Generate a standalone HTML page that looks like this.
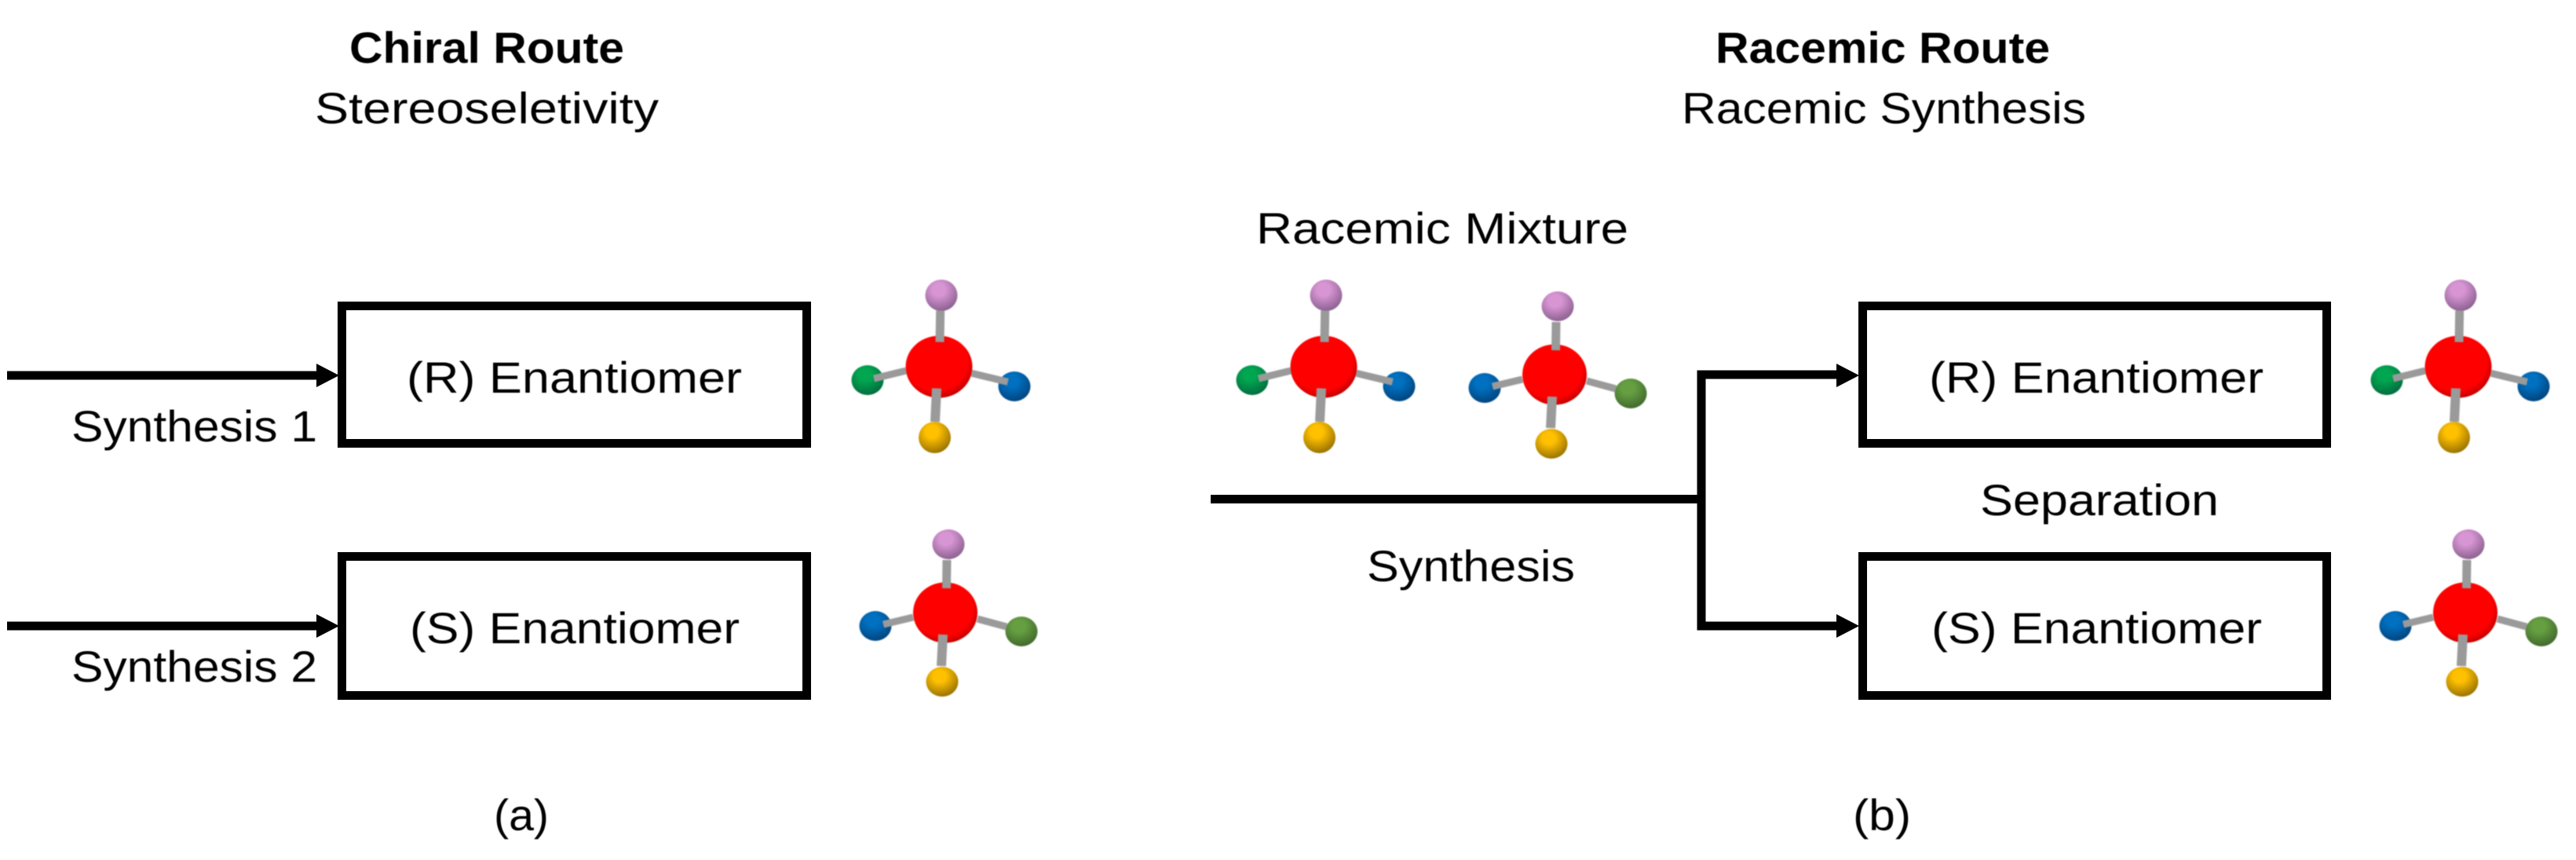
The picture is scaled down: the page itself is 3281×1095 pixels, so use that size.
<!DOCTYPE html>
<html><head><meta charset="utf-8"><style>
html,body{margin:0;padding:0;background:#fff}
svg{display:block}
text{font-family:"Liberation Sans",sans-serif;font-size:56px;fill:#000;filter:blur(.6px)}
.b{font-weight:bold}
.bd{stroke:#9a9a9a;fill:none}
.m{filter:blur(.7px)}
</style></head><body>
<svg width="3281" height="1095" viewBox="0 0 3281 1095" xmlns="http://www.w3.org/2000/svg">
<defs>
<radialGradient id="gr" cx=".46" cy=".42" r=".62"><stop offset=".75" stop-color="#ff0000"/><stop offset="1" stop-color="#b00000"/></radialGradient>
<radialGradient id="gp" cx=".42" cy=".32" r=".8"><stop offset=".25" stop-color="#d895d4"/><stop offset="1" stop-color="#7a5580"/></radialGradient>
<radialGradient id="gg" cx=".42" cy=".32" r=".8"><stop offset=".25" stop-color="#00a650"/><stop offset="1" stop-color="#00603a"/></radialGradient>
<radialGradient id="gb" cx=".42" cy=".32" r=".8"><stop offset=".25" stop-color="#0070c0"/><stop offset="1" stop-color="#003a6e"/></radialGradient>
<radialGradient id="gy" cx=".42" cy=".32" r=".8"><stop offset=".25" stop-color="#ffc000"/><stop offset="1" stop-color="#806000"/></radialGradient>
<radialGradient id="go" cx=".42" cy=".32" r=".8"><stop offset=".25" stop-color="#659f41"/><stop offset="1" stop-color="#395c28"/></radialGradient>
<g id="mr">
<ellipse cx="0" cy="0" rx="42.5" ry="39.5" fill="url(#gr)"/>
<ellipse cx="3" cy="-91" rx="20.5" ry="20" fill="url(#gp)"/>
<ellipse cx="-91" cy="17" rx="20.5" ry="19" fill="url(#gg)"/>
<ellipse cx="96" cy="25" rx="20.5" ry="19" fill="url(#gb)"/>
<ellipse cx="-5.5" cy="90" rx="20.5" ry="20" fill="url(#gy)"/>
<path class="bd" stroke-width="11" d="M1.7-71.5L1-31.5"/>
<path class="bd" stroke-width="12" d="M-3 27.5L-5 70"/>
<path class="bd" stroke-width="9" d="M-42 5L-83 15"/>
<path class="bd" stroke-width="9" d="M41.7 8.3L87.7 19.3"/>
</g>
<g id="ms">
<ellipse cx="0" cy="0" rx="41" ry="38.5" fill="url(#gr)"/>
<ellipse cx="4" cy="-87" rx="20.5" ry="19" fill="url(#gp)"/>
<ellipse cx="-89" cy="17" rx="20.5" ry="19" fill="url(#gb)"/>
<ellipse cx="97" cy="24" rx="20.5" ry="19" fill="url(#go)"/>
<ellipse cx="-4" cy="88" rx="20.5" ry="19" fill="url(#gy)"/>
<path class="bd" stroke-width="11" d="M2-67L1.5-31"/>
<path class="bd" stroke-width="12" d="M-3 28L-5 68"/>
<path class="bd" stroke-width="9" d="M-41 6L-79 15"/>
<path class="bd" stroke-width="9" d="M41 8L78 18"/>
</g>
</defs>
<rect width="3281" height="1095" fill="#fff"/>

<g fill="none" stroke="#000" stroke-width="11">
<rect x="435.5" y="389.5" width="592" height="175"/>
<rect x="435.5" y="708.5" width="592" height="177"/>
<rect x="2372.5" y="389.5" width="591" height="175"/>
<rect x="2372.5" y="708.5" width="591" height="177"/>
<path d="M9 478H405"/>
<path d="M9 797H405"/>
<path d="M1542 635.5H2167"/>
<path d="M2339 477H2167V797H2339"/>
</g>
<g fill="#000">
<path d="M403 463L432 478L403 493Z"/>
<path d="M403 782L432 797L403 812Z"/>
<path d="M2339 463L2368 478L2339 493Z"/>
<path d="M2339 782L2368 797L2339 812Z"/>
</g>

<g class="m">
<use href="#mr" x="1196" y="467"/>
<use href="#mr" x="1686" y="467"/>
<use href="#mr" x="3131" y="467"/>
<use href="#ms" x="1204" y="780"/>
<use href="#ms" x="1980" y="477"/>
<use href="#ms" x="3140" y="780"/>
</g>

<text class="b" x="445" y="80" textLength="350" lengthAdjust="spacingAndGlyphs">Chiral Route</text>
<text x="401" y="157" textLength="438" lengthAdjust="spacingAndGlyphs">Stereoseletivity</text>
<text x="518" y="500" textLength="427" lengthAdjust="spacingAndGlyphs">(R) Enantiomer</text>
<text x="91" y="562" textLength="313" lengthAdjust="spacingAndGlyphs">Synthesis 1</text>
<text x="522" y="819" textLength="420" lengthAdjust="spacingAndGlyphs">(S) Enantiomer</text>
<text x="91" y="868" textLength="313" lengthAdjust="spacingAndGlyphs">Synthesis 2</text>
<text x="629" y="1057" textLength="70" lengthAdjust="spacingAndGlyphs">(a)</text>

<text class="b" x="2185" y="80" textLength="426" lengthAdjust="spacingAndGlyphs">Racemic Route</text>
<text x="2142" y="157" textLength="515" lengthAdjust="spacingAndGlyphs">Racemic Synthesis</text>
<text x="1600" y="310" textLength="474" lengthAdjust="spacingAndGlyphs">Racemic Mixture</text>
<text x="2457" y="500" textLength="426" lengthAdjust="spacingAndGlyphs">(R) Enantiomer</text>
<text x="2522" y="656" textLength="304" lengthAdjust="spacingAndGlyphs">Separation</text>
<text x="1741" y="740" textLength="265" lengthAdjust="spacingAndGlyphs">Synthesis</text>
<text x="2460" y="819" textLength="421" lengthAdjust="spacingAndGlyphs">(S) Enantiomer</text>
<text x="2360" y="1057" textLength="74" lengthAdjust="spacingAndGlyphs">(b)</text>
</svg>
</body></html>
